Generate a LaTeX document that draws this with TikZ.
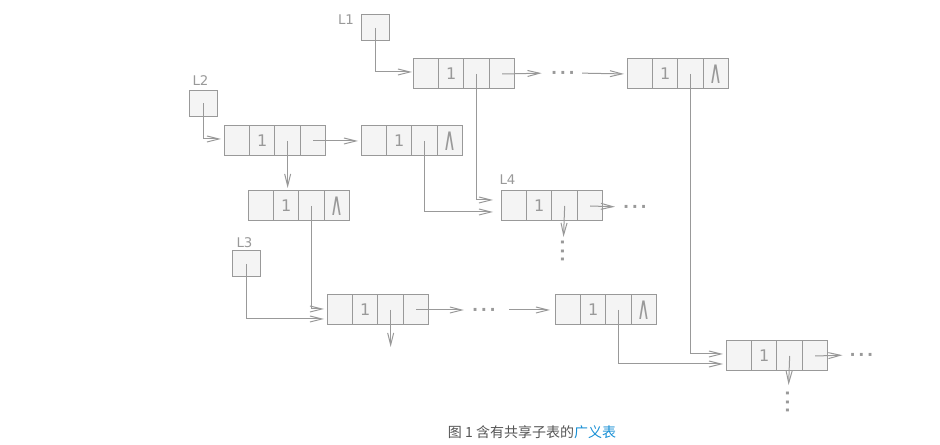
\documentclass[tikz,border=0pt]{standalone}
\usepackage{graphicx}
\usepackage{fontspec}
\setmainfont{DejaVu Sans}
\newfontfamily\cjkfont{Noto Sans CJK SC}
\usetikzlibrary{arrows.meta,positioning}
\definecolor{linegrey}{RGB}{153,153,153}
\definecolor{cellfill}{RGB}{244,244,244}
\definecolor{textgrey}{RGB}{153,153,153}
\definecolor{capgrey}{RGB}{85,85,85}
\definecolor{linkblue}{RGB}{22,142,212}
\tikzset{
  cell/.style={draw=linegrey,fill=cellfill,line width=0.75pt,minimum width=19.1pt,minimum height=22.5pt,inner sep=0pt,outer sep=0pt,text=textgrey,font=\fontsize{12}{12}\selectfont},
  headbox/.style={cell,minimum width=21pt,minimum height=19.5pt},
  link/.style={-{Straight Barb[length=9pt,width=4.5pt]},draw=linegrey,line width=0.75pt,shorten >=2.25pt},
  lab/.style={text=textgrey,font=\fontsize{10}{10}\selectfont,inner sep=0pt},
  dots/.style={text=textgrey,font=\fontsize{12}{12}\selectfont\bfseries,inner sep=0pt,text height=8pt,text depth=-4pt}
}
% one node of the list: tag cell, "1", sublist pointer, tail pointer
\newcommand{\glnode}[3]{%
  \node[cell,anchor=north west] (#1-1) at (#2) {};
  \node[cell,right=0pt of #1-1] (#1-2) {1};
  \node[cell,right=0pt of #1-2] (#1-3) {};
  \node[cell,right=0pt of #1-3] (#1-4) {#3};
}
\newcommand{\nilmark}{\scalebox{1.1}[2]{∧}}
\newcommand{\dotrow}{·\kern2pt·\kern2pt·}

\begin{document}
\begin{tikzpicture}[x=0.75pt,y=-0.75pt]
  \useasboundingbox (0,0) rectangle (940,445);
  % head pointers
  \node[headbox] (L1box) at (375,28) {};
  \node[headbox] (L2box) at (203,103.5) {};
  \node[headbox] (L3box) at (246.5,264) {};
  \node[lab] (L1lab) at (346,20) {L1};
  \node[lab] (L2lab) at (200.5,80.5) {L2};
  \node[lab] (L3lab) at (244.5,242.5) {L3};
  \node[lab] (L4lab) at (507.5,179.5) {L4};
  % list nodes
  \glnode{l1n}{413,59}{}
  \glnode{l1z}{627,59}{\nilmark}
  \glnode{l2n}{224,126}{}
  \glnode{l2m}{361,126}{\nilmark}
  \glnode{l2s}{248,191}{\nilmark}
  \glnode{l4n}{501,191}{}
  \glnode{l3n}{327,295}{}
  \glnode{l3z}{555,295}{\nilmark}
  \glnode{shn}{726,341}{}
  % ellipses
  \node[dots] (l1dots) at (563,73) {\dotrow};
  \node[dots] (l3dots) at (484,310) {\dotrow};
  \node[dots] (l4dots) at (635,207) {\dotrow};
  \node[dots] (shdots) at (861.5,355) {\dotrow};
  \node[dots,rotate=90] (l4vdots) at (563,251) {\dotrow};
  \node[dots,rotate=90] (shvdots) at (788,402) {\dotrow};
  % L1
  \draw[link,shorten >=0.75pt] (L1box.center) |- ([yshift=1.5pt]l1n-1.west);
  \draw[link,shorten >=7pt] (l1n-4.center) -- (l1dots.west);
  \draw[link,shorten <=5.25pt] (l1dots.east) -- (l1z-1.west);
  % L2
  \draw[link] (L2box.center) |- ([yshift=1.5pt]l2n-1.west);
  \draw[link] (l2n-4.center) -- (l2m-1.west);
  \draw[link] (l2n-3.center) -- (l2n-3.center |- l2s-1.north);
  % L4
  \draw[link,shorten >=6pt] (l1n-3.center) |- ([yshift=4.5pt]l4n-1.west);
  \draw[link,shorten >=6pt] (l2m-3.center) |- ([yshift=-4.5pt]l4n-1.west);
  \draw[link,shorten >=6pt] (l4n-4.center) -- (l4dots.west);
  \draw[link,shorten >=10.5pt] (l4n-3.center) -- (l4vdots.center);
  % L3
  \draw[link] (l2s-3.center) |- ([yshift=0.75pt]l3n-1.west);
  \draw[link] (L3box.center) |- ([yshift=-6.75pt]l3n-1.west);
  \draw[link,shorten >=6pt] (l3n-4.center) -- (l3dots.west);
  \draw[link,shorten <=9.75pt,shorten >=3.75pt] (l3dots.east) -- (l3z-1.west);
  \coordinate[below=16.5pt of l3n-3] (l3end);
  \draw[link,shorten >=0pt] (l3n-3.center) -- (l3end);
  % shared sublist
  \draw[link] (l1z-3.center) |- ([yshift=1.5pt]shn-1.west);
  \draw[link] (l3z-3.center) |- ([yshift=-6pt]shn-1.west);
  \draw[link,shorten >=5.25pt] (shn-4.center) -- (shdots.west);
  \draw[link,shorten >=12.75pt] (shn-3.center) -- (shvdots.center);
  % caption
  \node[font=\cjkfont\fontsize{10.5}{11}\selectfont,text=capgrey] (caption) at (532,432) {图 1 含有共享子表的\textcolor{linkblue}{广义表}};
\end{tikzpicture}
\end{document}
